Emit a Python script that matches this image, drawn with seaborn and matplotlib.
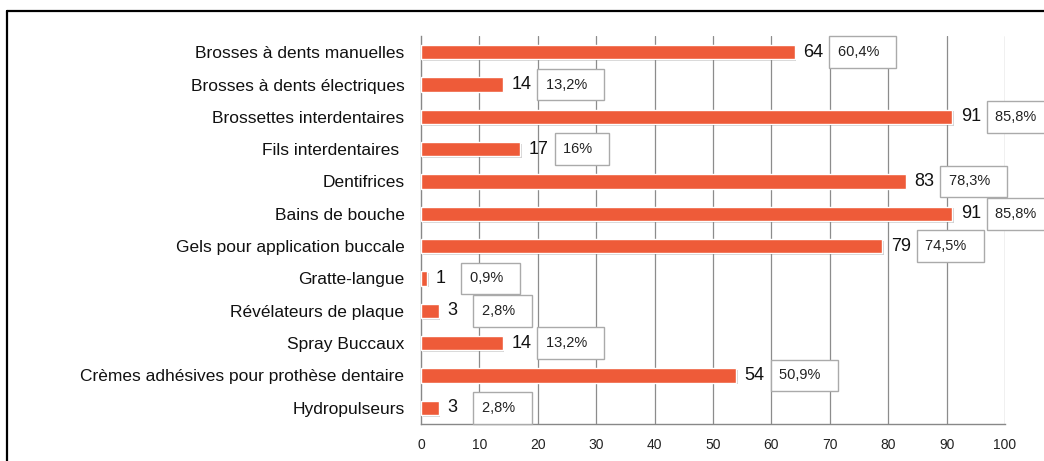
import matplotlib
matplotlib.use("Agg")
import matplotlib.pyplot as plt
import matplotlib.patheffects as pe
import seaborn as sns
import pandas as pd
from matplotlib.lines import Line2D

categories = ["Brosses à dents manuelles", "Brosses à dents électriques",
              "Brossettes interdentaires", "Fils interdentaires ", "Dentifrices",
              "Bains de bouche", "Gels pour application buccale", "Gratte-langue",
              "Révélateurs de plaque", "Spray Buccaux",
              "Crèmes adhésives pour prothèse dentaire", "Hydropulseurs"]
values = [64, 14, 91, 17, 83, 91, 79, 1, 3, 14, 54, 3]
percents = ["60,4%", "13,2%", "85,8%", "16%", "78,3%", "85,8%", "74,5%",
            "0,9%", "2,8%", "13,2%", "50,9%", "2,8%"]
xticks = [0, 10, 20, 30, 40, 50, 60, 70, 80, 90, 100]

sns.set_theme(style="white")
plt.rcParams['font.family'] = ['Liberation Sans', 'DejaVu Sans']

df = pd.DataFrame({"cat": categories, "val": values})

fig = plt.figure(figsize=(10.44, 4.61), dpi=100)
ax = fig.add_axes([0.4033, 0.0803, 0.9626 - 0.4033, 0.9219 - 0.0803])

sns.barplot(data=df, y="cat", x="val", orient="h", color="#EE5B39",
            saturation=1, width=0.45, ax=ax, zorder=3)
for patch in ax.patches:
    patch.set_path_effects([pe.SimplePatchShadow(offset=(1.2, -1.2), shadow_rgbFace="#000000", alpha=0.18),
                            pe.Normal()])

ax.set_xlim(0, 100)
ax.set_ylim(len(categories) - 0.5, -0.5)
ax.set_xticks(xticks)
ax.set_xticklabels([str(t) for t in xticks], fontsize=10, color="#222222")
ax.set_xlabel("")
ax.set_ylabel("")
ax.set_yticks(range(len(categories)), minor=False)
ax.tick_params(axis="y", length=0, labelsize=12.5, pad=12, labelcolor="#111111")
ax.set_yticks([i - 0.5 for i in range(len(categories) + 1)], minor=True)
ax.tick_params(axis="y", which="minor", length=5, color="#888888", width=1, direction="out")
ax.tick_params(axis="x", length=5, color="#888888", width=1, direction="out", pad=5)

for x in xticks[1:]:
    ax.axvline(x, color="#8c8c8c", lw=0.9, zorder=1)

for s in ["top", "right"]:
    ax.spines[s].set_visible(False)
for s in ["left", "bottom"]:
    ax.spines[s].set_color("#888888")
    ax.spines[s].set_linewidth(1)

for i, (v, p) in enumerate(zip(values, percents)):
    ax.annotate(str(v), xy=(v, i), xytext=(6, 0), textcoords="offset points",
                ha="left", va="center", fontsize=13, color="#111111", zorder=4)
    ax.annotate(p + "  ", xy=(v, i), xytext=(31, 0), textcoords="offset points",
                ha="left", va="center", fontsize=10.5, color="#222222", zorder=5,
                bbox=dict(boxstyle="square,pad=0.6", fc="white", ec="#aaaaaa", lw=1))

fig.add_artist(Line2D([7 / 1044, 1.0], [1 - 11 / 461, 1 - 11 / 461],
                      transform=fig.transFigure, color="black", lw=1.6))
fig.add_artist(Line2D([7 / 1044, 7 / 1044], [0, 1 - 11 / 461],
                      transform=fig.transFigure, color="black", lw=1.6))

fig.savefig("out.png", dpi=100, facecolor="white")
